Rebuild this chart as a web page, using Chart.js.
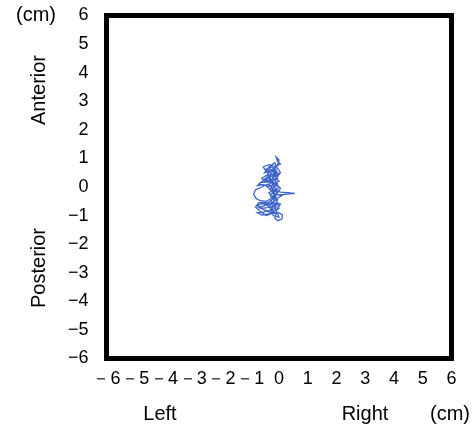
<!DOCTYPE html>
<html lang="en">
  <head>
    <meta charset="UTF-8" />
    <title>Stabilogram</title>
    <script src="https://cdn.jsdelivr.net/npm/chart.js"></script>
    <style>
      body { margin: 0; background: #fff; }
      #wrap { width: 476px; height: 427px; }
    </style>
  </head>
  <body>
    <div id="wrap"><canvas id="swayChart" width="476" height="427"></canvas></div>
    <script>
      // centre-of-pressure path, cm
      const pathX = [-0.2, -0.1, -0.25, -0.05, 0.0, -0.1, -0.05, 0.05, -0.15, -0.35, -0.55, -0.45, -0.3, -0.15, -0.05, -0.25, -0.45, -0.6, -0.5, -0.3,
        -0.1, 0.0, -0.2, -0.4, -0.65, -0.75, -0.55, -0.35, -0.15, 0.0, -0.1, 0.05, 0.3, 0.55, 0.25, 0.0, -0.2, -0.3, -0.25, -0.4,
        -0.6, -0.82, -0.88, -0.8, -0.65, -0.45, -0.3, -0.2, -0.1, -0.25, -0.4, -0.6, -0.75, -0.6, -0.4, -0.2, -0.05, 0.0, -0.15, -0.35,
        -0.55, -0.75, -0.6, -0.4, -0.2, 0.0, 0.12, 0.1, -0.05, -0.15, -0.1, -0.25, -0.15, -0.3, -0.15, -0.05, -0.2, -0.35, -0.25, -0.1,
        0.05, -0.1, -0.3, -0.5, -0.35, -0.15, -0.3, -0.45, -0.25, -0.1, -0.2, -0.05, -0.2, -0.35, -0.2, -0.1, -0.3, -0.15, -0.35, -0.5,
        -0.3, -0.1, -0.3, -0.5, -0.7, -0.5, -0.25, -0.1,
        -0.25, -0.45, -0.7, -0.55, -0.3, -0.1, -0.3, -0.5, -0.35, -0.15, -0.05, 0.05, -0.15, -0.05, -0.25, -0.15, 0.1, -0.1, -0.25, -0.45,
        -0.7, -0.82, -0.65, -0.45, -0.3, -0.1, 0.05, -0.1, -0.3, -0.2, 0.0, -0.15, -0.05, -0.2, -0.15, -0.35, -0.2, 0.0, -0.2, -0.4, -0.2];
      const pathY = [0.3, 0.5, 0.6, 0.75, 0.95, 1.05, 0.9, 0.8, 0.72, 0.78, 0.7, 0.55, 0.62, 0.55, 0.4, 0.45, 0.4, 0.3, 0.2, 0.25,
        0.3, 0.2, 0.12, 0.18, 0.15, 0.05, 0.08, 0.02, 0.08, 0.0, -0.12, -0.18, -0.2, -0.22, -0.25, -0.28, -0.22, -0.1, 0.05, 0.1,
        0.0, -0.1, -0.25, -0.4, -0.48, -0.5, -0.42, -0.3, -0.45, -0.55, -0.62, -0.58, -0.65, -0.75, -0.72, -0.68, -0.6, -0.75, -0.85, -0.82,
        -0.88, -0.9, -0.98, -0.95, -0.92, -0.9, -0.98, -1.12, -1.18, -1.08, -0.95, -0.78, -0.6, -0.5, -0.35, -0.2, -0.12, -0.2, -0.35, -0.25,
        -0.05, 0.1, 0.2, 0.28, 0.4, 0.38, 0.5, 0.62, 0.7, 0.62, 0.45, 0.3, 0.2, 0.3, 0.05, -0.05, -0.3, -0.5, -0.68, -0.6,
        -0.58, -0.7, -0.9, -0.8, -0.72, -0.65, -0.45, -0.35,
        -0.15, 0.05, 0.1, 0.22, 0.35, 0.5, 0.55, 0.5, 0.7, 0.85, 0.65, 0.5, 0.25, 0.1, -0.05, -0.25, -0.3, -0.42, -0.6, -0.55,
        -0.55, -0.7, -0.85, -1.0, -0.95, -0.82, -0.6, -0.55, -0.75, -1.0, -1.05, -0.7, -0.45, -0.38, -0.1, 0.08, 0.35, 0.45, 0.65, 0.45, 0.15];

      const xTickLabels = ['－6', '－5', '－4', '－3', '－2', '－1', '0', '1', '2', '3', '4', '5', '6'];
      const yTickLabels = ['−6', '−5', '−4', '−3', '−2', '−1', '0', '1', '2', '3', '4', '5', '6'];

      const FONT = '"Liberation Sans", Arial, sans-serif';

      const frameAndLabels = {
        id: 'frameAndLabels',
        afterDraw(chart) {
          const { ctx, chartArea: a } = chart;
          ctx.save();
          ctx.strokeStyle = '#000';
          ctx.lineWidth = 5;
          ctx.strokeRect(a.left, a.top, a.right - a.left, a.bottom - a.top);

          ctx.fillStyle = '#000';
          ctx.font = '20px ' + FONT;
          ctx.textAlign = 'center';
          ctx.textBaseline = 'middle';
          ctx.fillText('(cm)', 36, 15);
          ctx.fillText('Left', 160, 414);
          ctx.fillText('Right', 365, 414);
          ctx.fillText('(cm)', 450, 414);

          ctx.save();
          ctx.translate(39, 90);
          ctx.rotate(-Math.PI / 2);
          ctx.fillText('Anterior', 0, 0);
          ctx.restore();
          ctx.save();
          ctx.translate(39, 268);
          ctx.rotate(-Math.PI / 2);
          ctx.fillText('Posterior', 0, 0);
          ctx.restore();
          ctx.restore();
        }
      };

      new Chart(document.getElementById('swayChart'), {
        type: 'scatter',
        data: {
          datasets: [{
            data: pathX.map((x, i) => ({ x: x, y: pathY[i] })),
            showLine: true,
            borderColor: '#3c63c6',
            borderWidth: 1.3,
            pointRadius: 0,
            tension: 0
          }]
        },
        options: {
          responsive: false,
          animation: false,
          layout: { padding: { top: 15.5, right: 24.5, left: 0, bottom: 0 } },
          plugins: { legend: { display: false }, tooltip: { enabled: false } },
          scales: {
            x: {
              type: 'linear', min: -6, max: 6,
              afterFit(s) { s.height = 68.5; s.paddingLeft = 0; s.paddingRight = 0; },
              grid: { display: false, drawTicks: false },
              border: { display: false },
              ticks: {
                stepSize: 1, padding: 10, color: '#000', maxRotation: 0, autoSkip: false,
                font: { family: FONT, size: 18 },
                callback: (v) => xTickLabels[Math.round(v) + 6]
              }
            },
            y: {
              type: 'linear', min: -6, max: 6,
              afterFit(s) { s.width = 106.5; s.paddingTop = 0; s.paddingBottom = 0; },
              grid: { display: false, drawTicks: false },
              border: { display: false },
              ticks: {
                stepSize: 1, padding: 18, color: '#000', autoSkip: false,
                font: { family: FONT, size: 18 },
                callback: (v) => yTickLabels[Math.round(v) + 6]
              }
            }
          }
        },
        plugins: [frameAndLabels]
      });
    </script>
  </body>
</html>
